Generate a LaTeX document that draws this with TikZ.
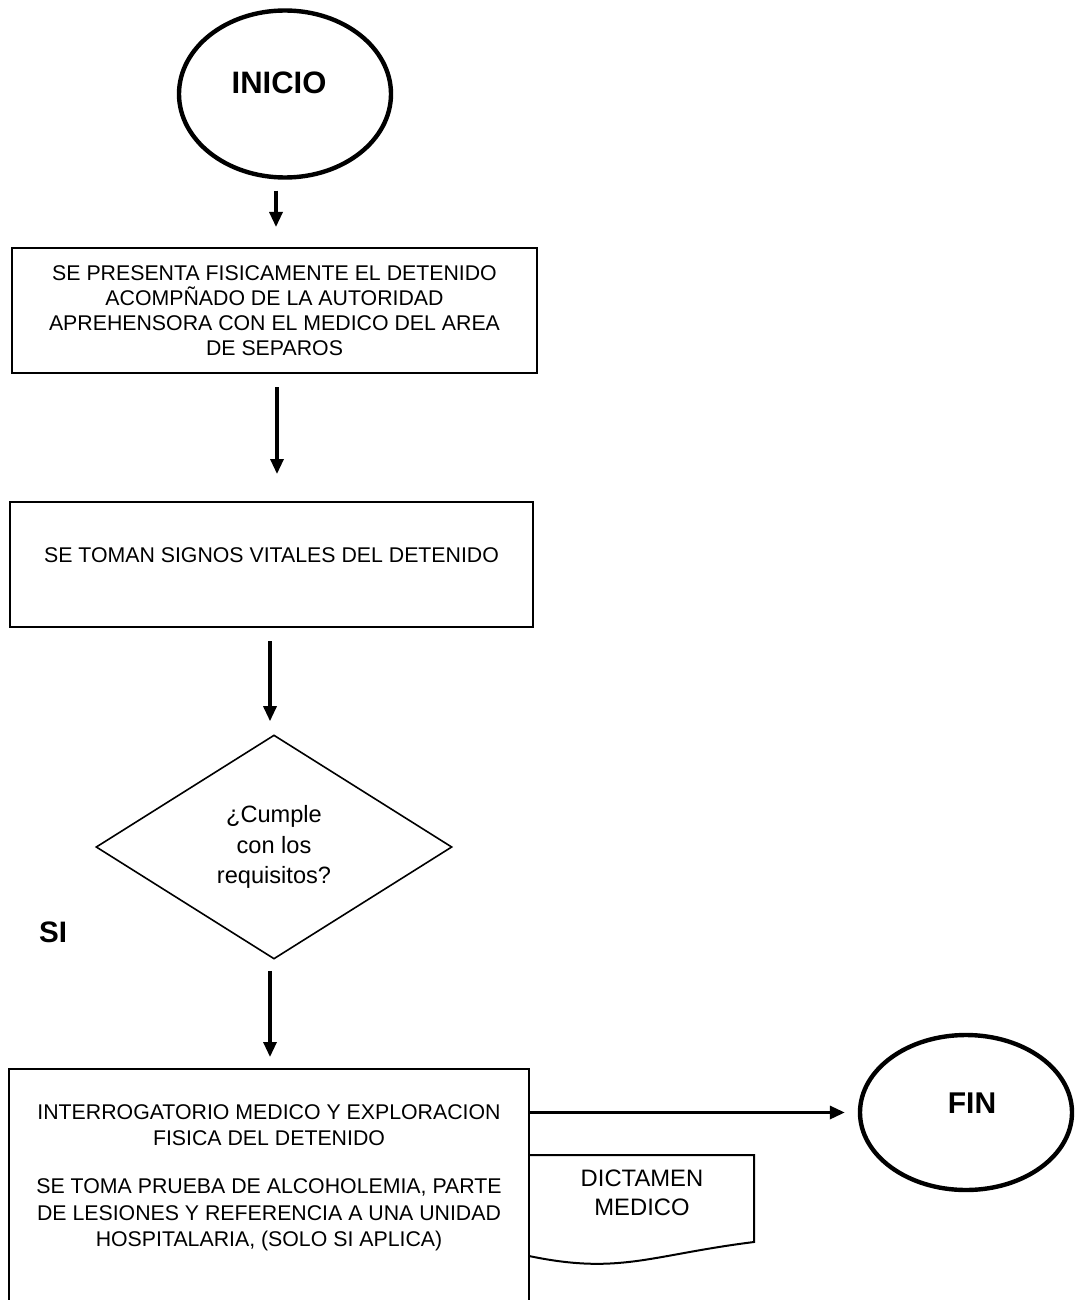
\documentclass[tikz,border=0pt]{standalone}
\usepackage{fontspec}
\setmainfont{Liberation Sans}
\usetikzlibrary{arrows.meta,shapes.geometric}

\tikzset{
  terminal/.style={ellipse, draw, line width=2.2pt, minimum width=106pt, minimum height=83.5pt,
    inner sep=0pt, font=\fontsize{15.5}{18}\selectfont\bfseries},
  process/.style={rectangle, draw, line width=1pt, align=center, inner sep=0pt,
    font=\fontsize{10.65}{12.5}\selectfont},
  decision/.style={diamond, draw, line width=0.8pt, minimum width=178pt, minimum height=112pt,
    inner sep=0pt, align=center, font=\fontsize{11.8}{15.25}\selectfont},
  flow/.style={->, line width=1.6pt},
  tag/.style={font=\fontsize{14.8}{17}\selectfont\bfseries}
}

\begin{document}
\begin{tikzpicture}[x=0.5pt,y=-0.5pt,>={Triangle[length=7.5pt,width=6.5pt]}]

  \clip (0,0) rectangle (1075,1300);

  \node[terminal, text height=11.1pt, text depth=12pt] (inicio) at (285,94) {INICIO\hspace*{6pt}};
  \node[process, minimum width=262.5pt, minimum height=62.5pt] (box1) at (274.5,310.5)
    {SE PRESENTA FISICAMENTE EL DETENIDO\\ACOMPÑADO DE LA AUTORIDAD\\APREHENSORA CON EL MEDICO DEL AREA\\DE SEPAROS};
  \node[process, minimum width=261.5pt, minimum height=62.5pt, text height=7.63pt, text depth=9.5pt] (box2) at (271.5,564.5)
    {SE TOMAN SIGNOS VITALES DEL DETENIDO};
  \node[decision] (cumple) at (274,847) {¿Cumple\\con los\\requisitos?};
  \node[tag] (si) at (53,932) {SI};
  \node[process, draw=none, minimum width=259pt, minimum height=108pt, font=\fontsize{10.65}{13.25}\selectfont] (box3) at (269,1178)
    {INTERROGATORIO MEDICO Y EXPLORACION\\FISICA DEL DETENIDO\\[10.75pt]SE TOMA PRUEBA DE ALCOHOLEMIA, PARTE\\DE LESIONES Y REFERENCIA A UNA UNIDAD\\HOSPITALARIA, (SOLO SI APLICA)};
  \node[terminal, font=\fontsize{15}{18}\selectfont\bfseries, minimum height=77.5pt,
    text height=10.74pt, text depth=10pt] (fin) at (966,1112.5) {\hspace*{6pt}FIN};
  \node[align=center, font=\fontsize{11.9}{14.5}\selectfont] (dictamen) at (642,1193) {DICTAMEN\\MEDICO};

  % open box at the bottom of the page
  \draw[line width=1pt] ([yshift=-20pt]box3.south west) -- (box3.north west) -- (box3.north east) -- ([yshift=-20pt]box3.south east);

  % document
  \draw[line width=1pt] (529,1155) -- (754,1155) -- (754,1242)
    .. controls (650,1255) and (620,1275) .. (529,1256);

  \path[flow]
    ([xshift=-4.5pt]inicio.south) edge[shorten <=5.5pt, shorten >=10pt] ([xshift=0.75pt]box1.north)
    ([xshift=1.25pt]box1.south) edge[shorten <=6.5pt, shorten >=13.5pt] ([xshift=2.75pt]box2.north)
    ([xshift=-0.75pt]box2.south) edge[shorten <=6.5pt, shorten >=6.5pt] ([xshift=-2pt]cumple.north)
    ([xshift=-2pt]cumple.south) edge[shorten <=5.5pt, shorten >=6pt] ([xshift=0.5pt]box3.north)
    (box3.east |- fin.west) edge[shorten >=6.5pt] (fin.west);
\end{tikzpicture}
\end{document}
